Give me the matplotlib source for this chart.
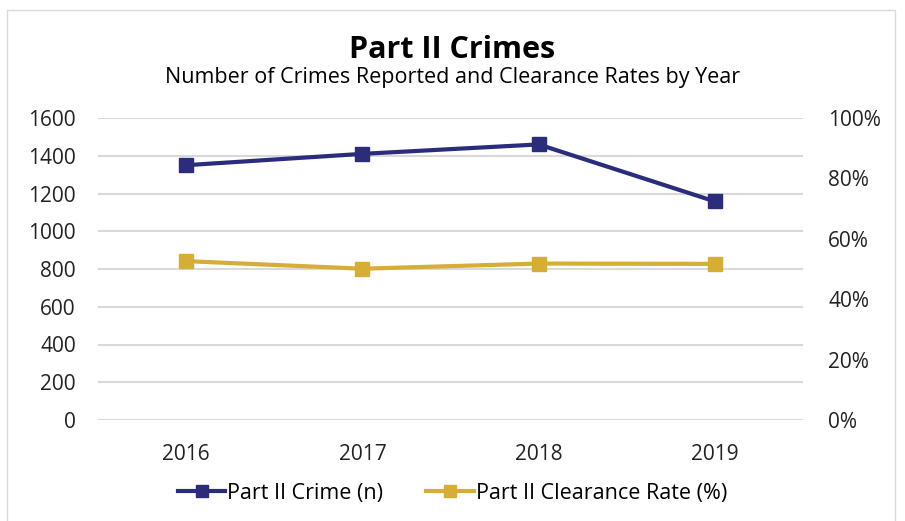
import matplotlib.pyplot as plt
from matplotlib.patches import Rectangle
from matplotlib.ticker import FuncFormatter

years = ['2016', '2017', '2018', '2019']
crimes = [1350, 1410, 1460, 1158]
clearance = [52.6, 50.1, 51.8, 51.7]

navy = '#2b2c7c'
gold = '#d6ae36'
plt.rcParams['font.family'] = ['Open Sans', 'DejaVu Sans']

fig = plt.figure(figsize=(9.05, 5.21), dpi=100)
fig.patches.append(Rectangle((7 / 905, -0.01), 888 / 905, 1 - 10 / 521 + 0.01,
                             transform=fig.transFigure, fill=False,
                             edgecolor='#d9d9d9', linewidth=1))

ax = fig.add_axes([98 / 905, 101 / 521, 705 / 905, 302 / 521])
ax2 = ax.twinx()

x = range(len(years))
l1, = ax.plot(x, crimes, color=navy, linewidth=3, marker='s', markersize=10,
              label='Part II Crime (n)', zorder=3)
l2, = ax2.plot(x, clearance, color=gold, linewidth=3, marker='s', markersize=10,
               label='Part II Clearance Rate (%)', zorder=3)

ax.set_xlim(-0.5, 3.5)
ax.set_ylim(0, 1600)
ax.set_yticks(range(0, 1601, 200))
ax2.set_ylim(0, 100)
ax2.set_yticks(range(0, 101, 20))
ax2.yaxis.set_major_formatter(FuncFormatter(lambda v, p: '%d%%' % v))
ax.set_xticks(list(x))
ax.set_xticklabels(years)

ax.grid(axis='y', color='#d9d9d9', linewidth=1.5)
ax.set_axisbelow(True)
for a in (ax, ax2):
    for s in a.spines.values():
        s.set_visible(False)
    a.tick_params(length=0, labelsize=15, colors='#222222')
ax.tick_params(axis='y', pad=16)
ax2.tick_params(axis='y', pad=18)
ax.tick_params(axis='x', pad=17)

fig.text(0.5, 1 - 50 / 521, 'Part II Crimes', ha='center', va='center',
         fontsize=22, fontweight='bold')
fig.text(0.5, 1 - 77 / 521, 'Number of Crimes Reported and Clearance Rates by Year',
         ha='center', va='center', fontsize=15.5)

fig.legend(handles=[l1, l2], loc='center', bbox_to_anchor=(0.5, 1 - 493 / 521),
           ncol=2, frameon=False, fontsize=15.5, handlelength=2.2,
           handletextpad=0.1, columnspacing=2.0, markerscale=0.8)

fig.savefig('out.png', dpi=100)
